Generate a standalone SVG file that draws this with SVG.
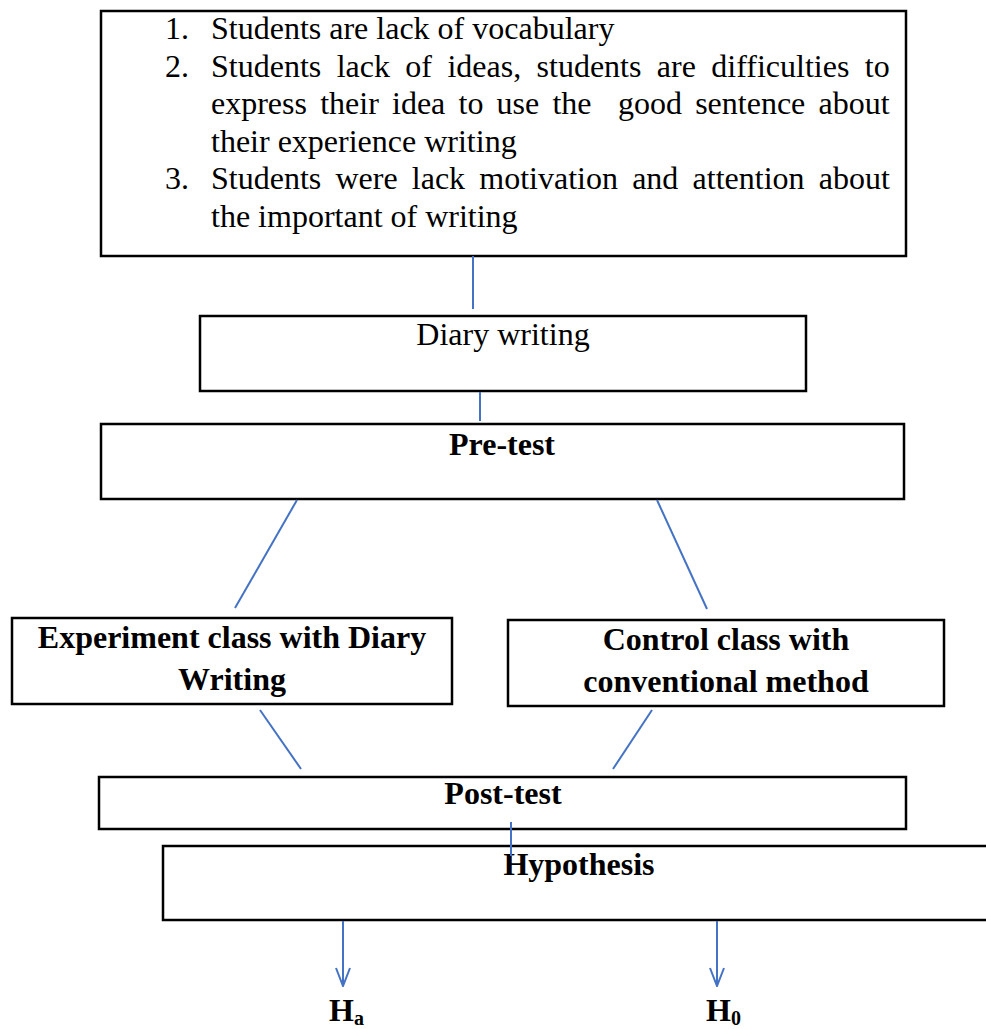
<svg xmlns="http://www.w3.org/2000/svg" width="986" height="1029" viewBox="0 0 986 1029">
  <defs>
    <style>
      .box { fill: #ffffff; stroke: #000000; stroke-width: 2.5; }
      .conn { stroke: #4472C4; stroke-width: 2; fill: none; }
      .t { font-family: "Liberation Serif", "Times New Roman", serif; font-size: 32px; fill: #000000; }
      .b { font-weight: bold; }
      .c { text-anchor: middle; }
    </style>
    <marker id="vhead" viewBox="0 0 20 16" refX="19" refY="8" markerWidth="20" markerHeight="16" markerUnits="userSpaceOnUse" orient="auto">
      <path d="M1,1 L19,8 L1,15" fill="none" stroke="#4472C4" stroke-width="2"/>
    </marker>
  </defs>
  <rect width="986" height="1029" fill="#ffffff"/>

  <g id="problems">
    <rect class="box" x="101" y="11" width="805" height="245"/>
    <text class="t" x="165" y="39">1.</text>
    <text class="t" x="211" y="39">Students are lack of vocabulary</text>
    <text class="t" x="165" y="76.5">2.</text>
    <text class="t" x="211" y="76.5" style="word-spacing:7.4px">Students lack of ideas, students are difficulties to</text>
    <text class="t" x="211" y="114" style="word-spacing:5.2px;white-space:pre">express their idea to use the  good sentence about</text>
    <text class="t" x="211" y="151.5">their experience writing</text>
    <text class="t" x="165" y="189">3.</text>
    <text class="t" x="211" y="189" style="word-spacing:6.2px">Students were lack motivation and attention about</text>
    <text class="t" x="211" y="226.5">the important of writing</text>
  </g>

  <g id="diary">
    <rect class="box" x="200" y="316" width="606" height="75"/>
    <text class="t c" x="503" y="345">Diary writing</text>
  </g>

  <g id="pretest">
    <rect class="box" x="101" y="424" width="803" height="75"/>
    <text class="t b c" x="502" y="455">Pre-test</text>
  </g>

  <g id="experiment">
    <rect class="box" x="12" y="618" width="440" height="86"/>
    <text class="t b c" x="232" y="648">Experiment class with Diary</text>
    <text class="t b c" x="232" y="690">Writing</text>
  </g>

  <g id="control">
    <rect class="box" x="508" y="620" width="436" height="86"/>
    <text class="t b c" x="726" y="650">Control class with</text>
    <text class="t b c" x="726" y="692">conventional method</text>
  </g>

  <g id="posttest">
    <rect class="box" x="99" y="777" width="807" height="52"/>
    <text class="t b c" x="503" y="804">Post-test</text>
  </g>

  <g id="hypothesis">
    <rect class="box" x="163" y="846" width="832" height="74"/>
    <text class="t b c" x="579" y="875">Hypothesis</text>
  </g>

  <g id="ha">
    <text class="t b" x="329" y="1021">H<tspan font-size="20" dy="4">a</tspan></text>
  </g>
  <g id="h0">
    <text class="t b" x="706" y="1021">H<tspan font-size="20" dy="4">0</tspan></text>
  </g>

  <g id="connectors">
    <line class="conn" x1="473" y1="256" x2="473" y2="309"/>
    <line class="conn" x1="480" y1="392" x2="480" y2="421"/>
    <line class="conn" x1="297" y1="500" x2="235" y2="608"/>
    <line class="conn" x1="657" y1="500" x2="707" y2="609"/>
    <line class="conn" x1="260" y1="710" x2="301" y2="769"/>
    <line class="conn" x1="652" y1="710" x2="613" y2="769"/>
    <line class="conn" x1="511" y1="822" x2="511" y2="856"/>
    <line class="conn" x1="343" y1="921" x2="343" y2="986" marker-end="url(#vhead)"/>
    <line class="conn" x1="717" y1="921" x2="717" y2="986" marker-end="url(#vhead)"/>
  </g>
</svg>
